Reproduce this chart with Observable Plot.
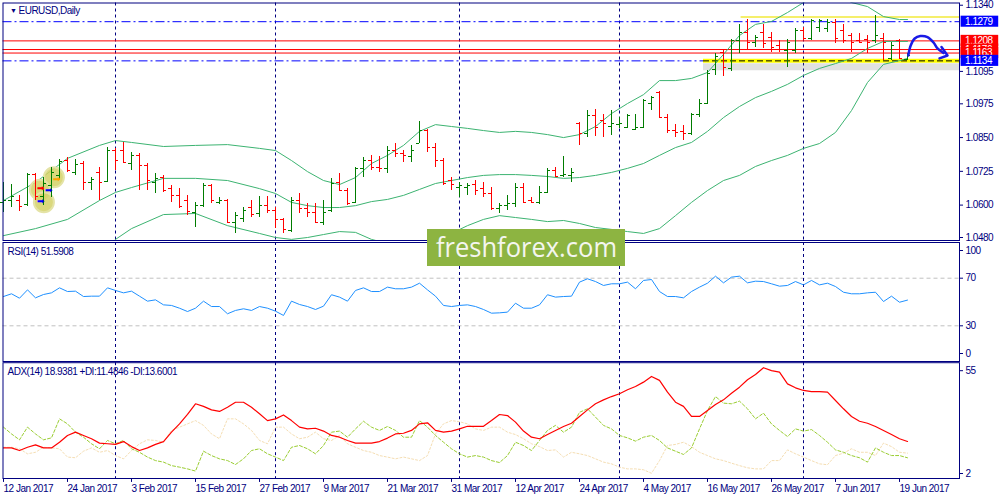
<!DOCTYPE html>
<html><head><meta charset="utf-8">
<script src="https://cdn.jsdelivr.net/npm/d3@7"></script>
<script src="https://cdn.jsdelivr.net/npm/@observablehq/plot@0.6"></script>
<style>
body{margin:0;background:#fff}
#chart{position:relative;width:1000px;height:500px;overflow:hidden;background:#fff}
#chart svg{position:absolute;left:0}
</style></head><body><div id="chart"></div>
<script>
// ---------- DATA ----------
const symbolTitle = "EURUSD,Daily";
const rsiTitle = "RSI(14) 51.5908";
const adxTitle = "ADX(14) 18.9381 +DI:11.4846 -DI:13.6001";
const dateLabels = ["12 Jan 2017","24 Jan 2017","3 Feb 2017","15 Feb 2017","27 Feb 2017","9 Mar 2017","21 Mar 2017","31 Mar 2017","12 Apr 2017","24 Apr 2017","4 May 2017","16 May 2017","26 May 2017","7 Jun 2017","19 Jun 2017"];
const barsPerDateLabel = 8;
const monthSeparators = [14, 34, 57, 77, 100]; // bar index of 1 Feb, 1 Mar, 3 Apr, 1 May, 1 Jun
const priceTicks = [1.1340, 1.1095, 1.0975, 1.0850, 1.0725, 1.0600, 1.0480];
const redLevels = [1.1208, 1.1176, 1.1163];
const blueLevels = [1.1279, 1.1134];
const levelLabels = [[1.1279,"blue"],[1.1208,"red"],[1.1176,"red"],[1.1163,"red"],[1.1134,"blue"]];
const topYellowLevel = 1.1296;

const openP = [1.0610,1.0617,1.0617,1.0602,1.0713,1.0632,1.0672,1.0710,1.0765,1.0721,
1.0754,1.0684,1.0721,1.0687,1.0802,1.0802,1.0754,1.0784,1.0747,1.0684,
1.0702,1.0661,1.0636,1.0617,1.0573,1.0598,1.0672,1.0610,1.0617,1.0536,
1.0550,1.0591,1.0569,1.0598,1.0580,1.0547,1.0506,1.0617,1.0587,1.0573,
1.0536,1.0580,1.0684,1.0654,1.0610,1.0736,1.0765,1.0739,1.0736,1.0802,
1.0791,1.0780,1.0828,1.0876,1.0813,1.0765,1.0691,1.0665,1.0665,1.0676,
1.0661,1.0643,1.0587,1.0598,1.0606,1.0665,1.0617,1.0610,1.0647,1.0728,
1.0710,1.0710,1.0902,1.0865,1.0932,1.0913,1.0891,1.0898,1.0887,1.0880,
1.0887,1.0976,1.1017,1.0924,1.0876,1.0873,1.0865,1.0935,1.0976,1.1102,
1.1165,1.1106,1.1209,1.1239,1.1202,1.1239,1.1221,1.1191,1.1172,1.1172,
1.1247,1.1217,1.1258,1.1254,1.1276,1.1247,1.1228,1.1209,1.1213,1.1209,
1.1217,1.1143,1.1209,1.1139];
const highP = [1.0684,1.0676,1.0636,1.0717,1.0717,1.0702,1.0739,1.0769,1.0776,1.0769,
1.0761,1.0702,1.0739,1.0813,1.0810,1.0832,1.0795,1.0791,1.0754,1.0717,
1.0710,1.0672,1.0661,1.0636,1.0610,1.0680,1.0676,1.0628,1.0621,1.0573,
1.0591,1.0617,1.0632,1.0632,1.0591,1.0550,1.0628,1.0643,1.0606,1.0606,
1.0617,1.0699,1.0717,1.0661,1.0739,1.0776,1.0784,1.0780,1.0817,1.0828,
1.0802,1.0821,1.0910,1.0880,1.0828,1.0773,1.0702,1.0684,1.0680,1.0691,
1.0684,1.0665,1.0606,1.0636,1.0680,1.0680,1.0628,1.0669,1.0736,1.0739,
1.0780,1.0736,1.0906,1.0950,1.0954,1.0935,1.0950,1.0924,1.0935,1.0935,
1.0991,1.1002,1.1021,1.0935,1.0898,1.0895,1.0939,1.0991,1.1098,1.1161,
1.1176,1.1213,1.1269,1.1287,1.1228,1.1269,1.1239,1.1209,1.1213,1.1254,
1.1258,1.1287,1.1287,1.1287,1.1287,1.1269,1.1235,1.1235,1.1228,1.1302,
1.1235,1.1202,1.1213,1.1161];
const lowP = [1.0573,1.0591,1.0576,1.0595,1.0617,1.0598,1.0628,1.0691,1.0721,1.0710,
1.0654,1.0654,1.0617,1.0684,1.0728,1.0754,1.0728,1.0654,1.0654,1.0643,
1.0647,1.0610,1.0587,1.0561,1.0517,1.0591,1.0606,1.0602,1.0532,1.0495,
1.0536,1.0554,1.0554,1.0569,1.0513,1.0495,1.0499,1.0569,1.0554,1.0532,
1.0524,1.0573,1.0650,1.0598,1.0606,1.0702,1.0728,1.0721,1.0717,1.0776,
1.0758,1.0758,1.0828,1.0795,1.0739,1.0672,1.0654,1.0628,1.0636,1.0636,
1.0628,1.0580,1.0569,1.0580,1.0591,1.0606,1.0606,1.0602,1.0643,1.0702,
1.0702,1.0684,1.0821,1.0850,1.0854,1.0850,1.0858,1.0884,1.0884,1.0876,
1.0884,1.0950,1.0921,1.0865,1.0850,1.0839,1.0858,1.0924,1.0972,1.1080,
1.1076,1.1095,1.1161,1.1176,1.1183,1.1180,1.1165,1.1165,1.1109,1.1161,
1.1209,1.1209,1.1239,1.1239,1.1198,1.1198,1.1165,1.1198,1.1161,1.1198,
1.1135,1.1135,1.1139,1.1135];
const closeP = [1.0617,1.0632,1.0595,1.0713,1.0632,1.0680,1.0721,1.0761,1.0728,1.0750,
1.0684,1.0695,1.0684,1.0802,1.0765,1.0758,1.0784,1.0747,1.0691,1.0699,
1.0654,1.0636,1.0595,1.0576,1.0598,1.0672,1.0617,1.0617,1.0536,1.0561,
1.0580,1.0565,1.0598,1.0580,1.0547,1.0510,1.0617,1.0587,1.0573,1.0536,
1.0573,1.0680,1.0654,1.0606,1.0736,1.0765,1.0739,1.0736,1.0802,1.0791,
1.0784,1.0802,1.0876,1.0813,1.0765,1.0680,1.0676,1.0672,1.0672,1.0654,
1.0643,1.0587,1.0598,1.0606,1.0665,1.0610,1.0610,1.0647,1.0728,1.0706,
1.0713,1.0721,1.0865,1.0932,1.0887,1.0902,1.0902,1.0902,1.0932,1.0887,
1.0987,1.0998,1.0924,1.0876,1.0869,1.0865,1.0935,1.0976,1.1087,1.1150,
1.1109,1.1209,1.1239,1.1202,1.1221,1.1198,1.1183,1.1176,1.1202,1.1247,
1.1217,1.1283,1.1283,1.1276,1.1217,1.1209,1.1202,1.1202,1.1202,1.1228,
1.1202,1.1191,1.1143,1.1154];

// Bollinger bands, read at these bar indices
const bandBars = [0,4,8,12,14,16,20,24,28,32,34,36,38,40,42,44,46,48,50,52,54,56,58,60,62,64,66,68,70,72,74,76,78,80,82,84,86,88,90,92,94,96,98,100,102,104,106,108,110,112,113];
const upperBand = [1.0617,1.0684,1.0773,1.0821,1.0839,1.0832,1.0817,1.0821,1.0824,1.0810,
1.0802,1.0765,1.0724,1.0691,1.0676,1.0702,1.0754,1.0784,1.0821,1.0873,
1.0898,1.0891,1.0884,1.0876,1.0869,1.0873,1.0869,1.0861,1.0850,1.0861,
1.0891,1.0939,1.0976,1.1009,1.1061,1.1061,1.1069,1.1091,1.1158,1.1228,
1.1269,1.1280,1.1313,1.1350,1.1383,1.1380,1.1350,1.1335,1.1298,1.1287,1.1287];
const middleBand = [1.0487,1.0513,1.0547,1.0617,1.0647,1.0665,1.0699,1.0699,1.0691,1.0661,
1.0643,1.0610,1.0598,1.0591,1.0591,1.0598,1.0613,1.0621,1.0636,1.0658,
1.0680,1.0691,1.0702,1.0710,1.0713,1.0713,1.0710,1.0706,1.0699,1.0702,
1.0710,1.0721,1.0736,1.0754,1.0784,1.0813,1.0832,1.0873,1.0924,1.0965,
1.0998,1.1021,1.1047,1.1080,1.1106,1.1124,1.1143,1.1180,1.1206,1.1206,1.1206];
const lowerBand = [1.0358,1.0343,1.0321,1.0413,1.0473,1.0513,1.0565,1.0569,1.0524,1.0495,
1.0480,1.0473,1.0480,1.0491,1.0502,1.0499,1.0473,1.0458,1.0450,1.0443,
1.0462,1.0495,1.0524,1.0547,1.0561,1.0554,1.0547,1.0539,1.0543,1.0532,
1.0517,1.0510,1.0502,1.0495,1.0513,1.0561,1.0610,1.0654,1.0691,1.0710,
1.0743,1.0765,1.0784,1.0810,1.0828,1.0869,1.0950,1.1054,1.1121,1.1135,1.1143];

const rsiValues = [54.6,56.9,53.2,60.2,53.5,56.3,57.7,61.9,58.8,59.1,
54.6,54.9,54.9,61.9,59.7,57.7,59.1,54.9,50.7,51.8,
47.6,47.1,44.8,42.0,44.8,50.7,46.2,46.2,40.1,42.9,
44.3,42.9,46.2,44.8,42.3,38.7,50.7,47.9,46.2,43.7,
46.5,56.1,54.1,50.7,59.7,61.9,58.8,58.8,62.5,61.1,
61.1,62.5,65.8,60.2,54.9,47.1,46.2,47.1,47.6,46.2,
43.7,40.6,40.9,41.5,49.0,44.8,44.8,47.6,56.1,54.1,
54.6,54.9,66.7,69.5,67.2,63.9,65.3,65.3,66.7,61.1,
68.1,68.9,58.8,54.6,54.6,53.5,58.8,62.5,65.8,71.7,
66.1,70.9,71.7,66.1,67.5,67.2,65.3,63.3,63.9,67.2,
64.4,68.1,64.4,65.8,63.0,58.2,56.9,56.9,57.7,58.2,
50.4,54.9,49.8,51.6];
const rsiTicks = [100, 70, 30, 0];
const rsiLevels = [30, 70];

const adxMain = [16.0,16.0,14.8,16.3,17.4,16.0,16.0,18.6,21.7,23.2,
21.7,20.2,18.2,17.9,17.6,18.9,16.6,14.8,16.0,17.6,
18.9,23.2,27.0,31.3,36.2,35.0,33.4,32.7,34.6,36.9,
36.9,34.6,31.6,28.5,29.3,31.1,28.5,25.5,24.7,25.0,
23.7,21.7,20.9,19.4,18.2,18.2,18.2,18.9,20.5,22.4,
22.7,24.0,27.0,27.5,24.0,23.2,23.7,24.7,25.9,25.9,
25.9,28.5,31.3,30.8,27.8,23.7,20.9,20.2,22.1,24.0,
25.8,27.3,30.4,33.4,36.2,38.0,39.5,40.8,42.6,44.1,
46.1,48.7,46.9,41.5,36.9,35.0,30.4,30.4,33.1,35.9,
38.0,41.0,43.8,47.2,49.6,52.7,51.4,50.7,45.3,43.5,
42.3,41.8,41.8,41.5,37.7,33.9,30.4,28.2,27.3,25.8,
24.0,22.1,20.2,18.94];
const plusDI = [25.5,22.4,19.7,25.5,22.4,19.7,20.6,29.3,27.0,23.2,
20.9,17.9,15.6,19.4,17.9,19.4,15.6,14.0,11.8,10.2,
9.5,7.9,7.2,6.4,5.4,14.5,12.5,11.0,10.2,8.4,
11.0,14.8,15.6,13.3,11.8,10.2,16.3,17.1,15.6,13.3,
17.1,23.2,23.7,20.9,24.7,28.2,25.5,24.0,25.8,24.0,
20.9,20.9,28.5,25.5,21.7,18.6,15.6,13.3,11.8,12.5,
11.8,10.2,9.3,12.5,18.6,17.1,14.8,19.4,24.0,26.3,
23.2,25.5,32.3,33.9,30.1,26.3,24.7,21.7,20.6,19.1,
20.9,21.7,19.4,16.0,14.5,13.0,16.0,24.7,33.1,39.5,
36.5,36.2,37.4,33.9,29.3,31.9,27.0,24.0,21.2,24.7,
23.7,24.4,21.7,18.6,15.1,14.0,12.5,11.5,9.5,16.0,
14.0,12.5,12.5,11.48];
const minusDI = [16.3,16.3,15.6,13.3,14.0,16.3,16.0,15.6,11.8,11.5,
14.5,16.0,14.0,14.8,12.5,11.0,14.8,17.9,19.7,19.4,
18.6,24.0,25.5,27.0,28.5,26.3,22.4,20.2,29.3,29.3,
27.0,24.0,19.4,17.9,25.5,25.5,22.4,20.2,20.9,23.2,
20.2,19.4,21.7,17.9,16.3,14.8,14.0,12.5,11.8,11.0,
11.8,11.0,10.2,12.5,22.4,27.0,28.5,28.0,27.0,24.7,
24.0,25.5,25.5,23.2,22.1,20.2,17.9,16.6,14.8,15.1,
11.8,14.0,13.3,12.5,11.0,9.5,8.7,7.2,6.4,6.4,
6.0,4.4,10.2,17.1,17.6,18.6,16.6,14.0,12.5,11.0,
10.2,9.0,7.9,6.9,6.4,6.4,10.2,10.2,15.1,13.3,
11.8,10.2,8.7,8.3,12.5,13.6,15.6,14.0,14.0,12.5,
18.2,16.6,14.0,13.60];
const adxTicks = [55, 2];

// hand-drawn annotations (bar index, price)
const curvedArrow = [[113.1,1.1154],[113.4,1.1191],[113.9,1.1217],[114.6,1.1226],[115.5,1.1222],[116.25,1.1202],[116.75,1.1180],[117.5,1.1163]];
const arrowHead = [[117.25,1.1185],[118.0,1.1154],[117.0,1.1143]];
const tradeCircles = [[6.3,1.0703],[4.55,1.0657],[5.05,1.0611]];
const tradeIcons = [[4.6,1.0663,"red"],[5.6,1.0657,"blue"],[4.7,1.0614,"blue"],[6.6,1.0698,"orange"]];
const highlightFrom = 87.5, topYellowFrom = 92.2;

// ---------- STYLE ----------
const NAVY = "#000080", GREEN = "#007c00", RED = "#ff0000", BB = "#3cb371";
const X_DOMAIN = [-0.0625, 119.5];
const baseStyle = {background:"transparent", fontFamily:"'Liberation Sans', Arial, sans-serif", fontSize:"10px", letterSpacing:"-0.5px", color:NAVY, overflow:"visible"};
const common = {width:1000, marginLeft:2.5, marginRight:41, x:{domain:X_DOMAIN, axis:null}, color:{type:"identity"}, style:baseStyle};
const fmt4 = d3.format(".4f");

const bars = openP.map((o,i)=>({i, open:o, high:highP[i], low:lowP[i], close:closeP[i], col: closeP[i] >= o ? GREEN : RED}));
const bands = bandBars.map((i,k)=>({i, upper:upperBand[k], mid:middleBand[k], lower:lowerBand[k]}));
const lblColor = {blue:"#0000ff", red:"#ff0000"};

const levelLabelMarks = levelLabels.flatMap(([p,c]) => [
  Plot.rect([p], {x1:()=>119.7, x2:()=>124.4, y1:d=>d-0.00205, y2:d=>d+0.00205, fill:lblColor[c]}),
  Plot.text([p], {x:()=>119.7, y:d=>d, dx:4, text:d=>fmt4(d), textAnchor:"start", fill:"white"})
]);

const pricePlot = Plot.plot({
  ...common, height:241, marginTop:2.5, marginBottom:1,
  y:{domain:[1.046895, 1.134824], axis:null},
  marks:[
    Plot.ruleX(monthSeparators, {x:d=>d, stroke:NAVY, strokeDasharray:"3,3"}),
    Plot.ruleY(redLevels, {y:d=>d, stroke:RED}),
    Plot.ruleY(blueLevels, {y:d=>d, stroke:"#0000ff", strokeDasharray:"9,3,2,3"}),
    Plot.ruleY([blueLevels[1]], {y:d=>d, x1:()=>highlightFrom, x2:()=>X_DOMAIN[1], stroke:"#777", strokeOpacity:0.22, strokeWidth:7, dy:6, ariaLabel:"shadow"}),
    Plot.ruleY([blueLevels[1]], {y:d=>d, x1:()=>highlightFrom, x2:()=>X_DOMAIN[1], stroke:"#ffff00", strokeWidth:4}),
    Plot.ruleY([blueLevels[1]], {y:d=>d, x1:()=>highlightFrom, x2:()=>X_DOMAIN[1], stroke:"#000", strokeDasharray:"6,3"}),
    Plot.ruleY([topYellowLevel], {y:d=>d, x1:()=>topYellowFrom, x2:()=>X_DOMAIN[1], stroke:"#f2ea3a", strokeWidth:1.5}),
    Plot.line(bands, {x:"i", y:"upper", stroke:BB, strokeWidth:1, clip:true}),
    Plot.line(bands, {x:"i", y:"mid", stroke:BB, strokeWidth:1, clip:true}),
    Plot.line(bands, {x:"i", y:"lower", stroke:BB, strokeWidth:1, clip:true}),
    Plot.dot(tradeCircles, {x:d=>d[0], y:d=>d[1], r:10, fill:"#d3d166", fillOpacity:0.85, stroke:"#e4e3a6", strokeWidth:2}),
    Plot.ruleX(bars, {x:"i", y1:"low", y2:"high", stroke:"col", shapeRendering:"crispEdges"}),
    Plot.ruleY(bars, {y:"open", x1:d=>d.i-0.4, x2:"i", stroke:"col", shapeRendering:"crispEdges"}),
    Plot.ruleY(bars, {y:"close", x1:"i", x2:d=>d.i+0.42, stroke:"col", shapeRendering:"crispEdges"}),
    Plot.text(tradeIcons, {x:d=>d[0], y:d=>d[1], text:()=>"➡", fill:d=>d[2], fontSize:9}),
    Plot.line(curvedArrow, {x:d=>d[0], y:d=>d[1], curve:"catmull-rom", stroke:"#333", strokeOpacity:0.3, strokeWidth:4, dy:3, ariaLabel:"shadow"}),
    Plot.line(curvedArrow, {x:d=>d[0], y:d=>d[1], curve:"catmull-rom", stroke:"#1a1ae6", strokeWidth:2.5}),
    Plot.line(arrowHead, {x:d=>d[0], y:d=>d[1], stroke:"#1a1ae6", strokeWidth:2.5}),
    Plot.frame({stroke:NAVY}),
    Plot.ruleY(priceTicks, {y:d=>d, x1:()=>119.5, x2:()=>120.0, stroke:NAVY}),
    Plot.text(priceTicks, {x:()=>119.5, y:d=>d, dx:6, text:d=>fmt4(d), textAnchor:"start", fill:NAVY}),
    ...levelLabelMarks,
    Plot.text(["▼"], {frameAnchor:"top-left", dx:7, dy:8, text:d=>d, fontSize:7, fill:NAVY, lineAnchor:"middle"}),
    Plot.text([symbolTitle], {frameAnchor:"top-left", dx:15.5, dy:8, text:d=>d, textAnchor:"start", lineAnchor:"middle", fill:NAVY})
  ]
});

const rsiAxisMarks = rsiTicks.flatMap(v => {
  const off = v === 100 ? 8 : v === 0 ? -8 : 0;
  return [
    Plot.ruleY([v], {y:d=>d, x1:()=>119.5, x2:()=>120.0, stroke:NAVY, dy:off}),
    Plot.text([v], {x:()=>119.5, y:d=>d, dx:6, dy:off, text:d=>String(d), textAnchor:"start", fill:NAVY})
  ];
});
const rsiPlot = Plot.plot({
  ...common, height:120, marginTop:1, marginBottom:0,
  y:{domain:[0,100], axis:null},
  marks:[
    Plot.ruleY(rsiLevels, {y:d=>d, stroke:"#c0c0c0", strokeDasharray:"4,3"}),
    Plot.ruleX(monthSeparators, {x:d=>d, stroke:NAVY, strokeDasharray:"3,3"}),
    Plot.line(rsiValues, {x:(d,k)=>k, y:d=>d, stroke:"#1e90ff", strokeWidth:1}),
    Plot.frame({stroke:NAVY}),
    ...rsiAxisMarks,
    Plot.text([rsiTitle], {frameAnchor:"top-left", dx:4.5, dy:9.5, text:d=>d, textAnchor:"start", lineAnchor:"middle", fill:NAVY})
  ]
});

const adxAxisMarks = adxTicks.flatMap(v => {
  const off = v === 55 ? 8 : -5;
  return [
    Plot.ruleY([v], {y:d=>d, x1:()=>119.5, x2:()=>120.0, stroke:NAVY, dy:off}),
    Plot.text([v], {x:()=>119.5, y:d=>d, dx:6, dy:off, text:d=>String(d), textAnchor:"start", fill:NAVY})
  ];
});
const adxPlot = Plot.plot({
  ...common, height:139, marginTop:1.2, marginBottom:22,
  y:{domain:[2,55], axis:null},
  marks:[
    Plot.ruleX(monthSeparators, {x:d=>d, stroke:NAVY, strokeDasharray:"3,3"}),
    Plot.line(minusDI, {x:(d,k)=>k, y:d=>d, stroke:"#f5deb3", strokeWidth:1, strokeDasharray:"2,2"}),
    Plot.line(plusDI, {x:(d,k)=>k, y:d=>d, stroke:"#9acd32", strokeWidth:1, strokeDasharray:"3,2"}),
    Plot.line(adxMain, {x:(d,k)=>k, y:d=>d, stroke:RED, strokeWidth:1.2}),
    Plot.frame({stroke:NAVY}),
    ...adxAxisMarks,
    Plot.ruleX(dateLabels, {x:(d,k)=>k*barsPerDateLabel, y1:()=>2, y2:()=>0.2, stroke:NAVY}),
    Plot.text(dateLabels, {x:(d,k)=>k*barsPerDateLabel, y:()=>2, dy:10.5, text:d=>d, textAnchor:"start", lineAnchor:"middle", fill:NAVY}),
    Plot.text([adxTitle], {frameAnchor:"top-left", dx:4.5, dy:9.5, text:d=>d, textAnchor:"start", lineAnchor:"middle", fill:NAVY})
  ]
});

const root = document.getElementById("chart");
[[pricePlot,0],[rsiPlot,241],[adxPlot,361]].forEach(([svg,top]) => {
  svg.style.top = top + "px";
  root.appendChild(svg);
});

// soft blur for drawn-object shadows
const sel = d3.select(pricePlot);
const f = sel.insert("defs", ":first-child").append("filter").attr("id","softShadow")
  .attr("filterUnits","userSpaceOnUse").attr("x",0).attr("y",0).attr("width",1000).attr("height",241);
f.append("feGaussianBlur").attr("stdDeviation", 3);
sel.selectAll('[aria-label="shadow"]').attr("filter","url(#softShadow)");

// watermark
const wm = d3.select(root).append("svg").attr("width",1000).attr("height",500).style("top","0px");
wm.append("rect").attr("x",427).attr("y",229).attr("width",198).attr("height",37).attr("fill","#8db441");
wm.append("text").attr("x",436).attr("y",256.5).attr("font-family","'Open Sans', sans-serif").attr("font-size",28)
  .attr("textLength",181).attr("lengthAdjust","spacingAndGlyphs").attr("fill","#f4f6ef").text("freshforex.com");
</script>
</body></html>
